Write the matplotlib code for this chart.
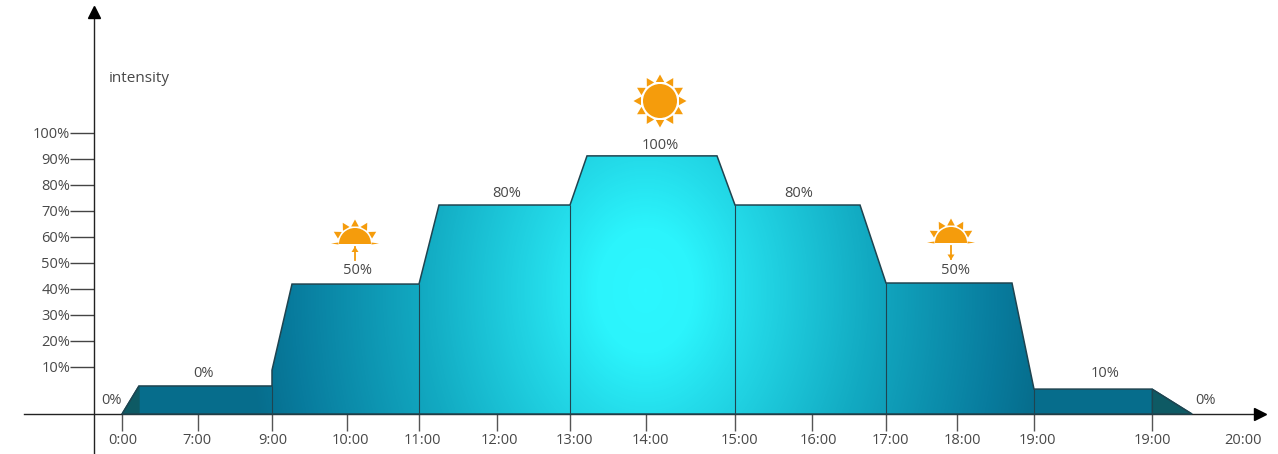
import numpy as np
import matplotlib
matplotlib.use("Agg")
import matplotlib.pyplot as plt
from matplotlib.colors import LinearSegmentedColormap
from matplotlib.patches import Polygon, Circle, Wedge
from matplotlib.transforms import Affine2D

W, H = 1278, 454
plt.rcParams['font.family'] = ['Open Sans', 'DejaVu Sans']

# 横轴用图上像素位置, 纵轴用刻度读数 (基线低于 0%)
y_ticks = [10, 20, 30, 40, 50, 60, 70, 80, 90, 100]
y_labels = ["10%", "20%", "30%", "40%", "50%", "60%", "70%", "80%", "90%", "100%"]
x_ticks = [122, 198, 272, 347, 419, 497, 570, 646, 735, 812, 886, 957, 1034, 1152]
x_label_pos = [123, 197, 273, 350, 422, 499, 574, 650, 739, 818, 890, 962, 1037, 1152, 1243]
x_labels = ["0:00", "7:00", "9:00", "10:00", "11:00", "12:00", "13:00", "14:00",
            "15:00", "16:00", "17:00", "18:00", "19:00", "19:00", "20:00"]
base = -8.1

outline_x = [122, 139, 272, 272, 292, 419, 439, 570, 587, 717, 735, 860, 886, 1012, 1034, 1152, 1192]
outline_y = [base, 2.7, 2.7, 8.8, 41.9, 41.9, 72.3, 72.3, 91.2, 91.2, 72.3, 72.3, 42.3, 42.3, 1.5, 1.5, base]
divider_x = [272, 419, 570, 735, 886, 1034, 1152]
divider_y = [2.7, 41.9, 72.3, 72.3, 42.3, 1.5, 1.5]

note_x = [112, 203, 357, 507, 660, 799, 955, 1105, 1206]
note_y = [-2.7, 7.6, 47.1, 76.9, 95.2, 76.9, 47.1, 7.6, -2.7]
note_text = ["0%", "0%", "50%", "80%", "100%", "80%", "50%", "10%", "0%"]

TEXT = "#484848"
LINE = "#1f4450"
SUN = "#f59c0c"

fig = plt.figure(figsize=(W / 100, H / 100), dpi=100)
ax = fig.add_axes([0, 0, 1, 1])
ymin, ymax = (393 - H) / 2.6, 393 / 2.6

# 径向渐变, 裁剪到轮廓内
cmap = LinearSegmentedColormap.from_list(
    "glow", [(0, "#2bf7ff"), (0.12, "#2bf4fc"), (0.25, "#24dcea"), (0.56, "#12aac2"),
             (0.88, "#087c9e"), (1, "#066d8c")])
px, py = np.meshgrid(np.arange(100, 1200), np.arange(140, 420))
t = np.sqrt(((px - 645) / 400.0) ** 2 + ((py - 290) / 520.0) ** 2)
im = ax.imshow(t, cmap=cmap, vmin=0, vmax=1, aspect="auto", zorder=1,
               extent=[100, 1200, (393 - 420) / 2.6, (393 - 140) / 2.6], origin="upper")
shape = Polygon(np.column_stack([outline_x, outline_y]), closed=True, fc="none", ec=LINE, lw=1.1, zorder=3)
ax.add_patch(shape)
im.set_clip_path(shape)
ax.set_xlim(0, W)
ax.set_ylim(ymin, ymax)

# 两端的深色三角
ax.fill([outline_x[0], outline_x[1], outline_x[1]], [base, outline_y[1], base], color="#0e5a64", zorder=2)
ax.fill([outline_x[-2], outline_x[-1], outline_x[-2]], [outline_y[-2], base, base], color="#0e5a64", zorder=2)
ax.vlines(divider_x, base, divider_y, color=LINE, lw=0.8, zorder=3)

# 坐标轴
for s in ["top", "right"]:
    ax.spines[s].set_visible(False)
ax.spines["left"].set_position(("data", 94))
ax.spines["bottom"].set_position(("data", base))
ax.spines["left"].set_bounds(ymin, (393 - 12) / 2.6)
ax.spines["bottom"].set_bounds(24, 1256)
ax.spines["left"].set_color("#222222")
ax.spines["bottom"].set_color("#222222")
ax.spines["left"].set_linewidth(1.0)
ax.spines["bottom"].set_linewidth(1.0)
ax.set_yticks(y_ticks, y_labels)
ax.set_xticks(x_ticks, [])
ax.tick_params(axis="y", length=17, width=1.0, color="#444444", labelcolor=TEXT, labelsize=10.5, pad=0)
ax.tick_params(axis="x", length=12, width=1.0, color="#555555")
ax.plot([94], [(393 - 12) / 2.6], marker="^", ms=8, color="black", zorder=5, clip_on=False)
ax.plot([1260], [base], marker=">", ms=8, color="black", zorder=5, clip_on=False)

for x, s in zip(x_label_pos, x_labels):
    ax.text(x, (393 - 441) / 2.6, s, ha="center", va="center", fontsize=10.5, color=TEXT)
for x, y, s in zip(note_x, note_y, note_text):
    ax.text(x, y, s, ha="center", va="center", fontsize=10.5, color=TEXT, zorder=6)
ax.text(109, (393 - 78) / 2.6, "intensity", ha="left", va="center", fontsize=11, color=TEXT)

# 太阳图标: 用像素坐标画, 保证是圆的
to_px = Affine2D().scale(1, -1).translate(0, H)


def ray(cx, cy, deg, r0, r1, half):
    a = np.deg2rad(deg)
    d = np.array([np.cos(a), np.sin(a)])
    n = np.array([-d[1], d[0]])
    c = np.array([cx, cy])
    pts = [c + d * r0 + n * half, c + d * r0 - n * half, c + d * r1]
    ax.add_patch(Polygon(pts, closed=True, fc=SUN, ec="none", transform=to_px, zorder=6))


def full_sun(cx, cy):
    ax.add_patch(Circle((cx, cy), 17, fc=SUN, ec="none", transform=to_px, zorder=6))
    for deg in range(0, 360, 30):
        ray(cx, cy, deg, 19, 26.5, 4.2)


def half_sun(cx, cy, up):
    ax.add_patch(Wedge((cx, cy), 16, 180, 360, fc=SUN, ec="none", transform=to_px, zorder=6))
    for deg in [-30, -60, -90, -120, -150]:
        ray(cx, cy, deg, 17.5, 24.5, 3.8)
    for deg in [0, 180]:
        ray(cx, cy - 0.5, deg, 16.5, 24, 1.0)
    ax.plot([cx, cx], [cy + 3, cy + 16], color=SUN, lw=1.3, transform=to_px, zorder=6)
    tip, back = (cy + 2.5, cy + 8) if up else (cy + 17, cy + 11.5)
    ax.add_patch(Polygon([(cx - 3.5, back), (cx + 3.5, back), (cx, tip)], closed=True, fc=SUN, ec="none",
                         transform=to_px, zorder=6))


full_sun(660, 101)
half_sun(355, 244, True)
half_sun(951, 243, False)

fig.savefig("out.png", dpi=100)
